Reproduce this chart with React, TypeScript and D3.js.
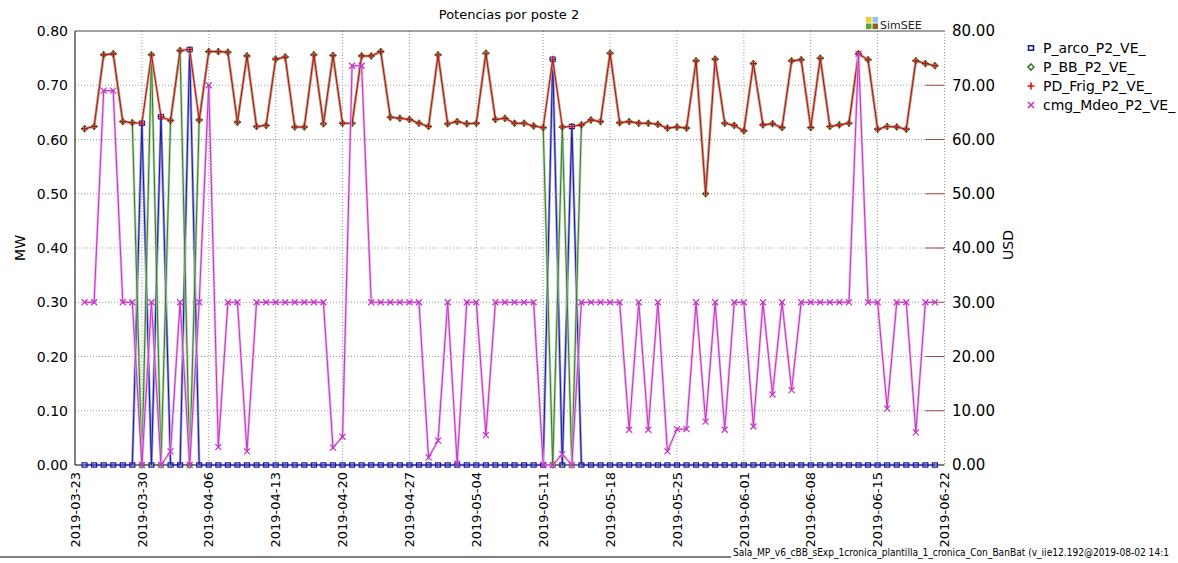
import React, { useEffect, useRef } from 'react';
import * as d3 from 'd3';

const W = 1178;
const H = 563;

// days: 2019-03-24 .. 2019-06-21 (one point per day)
const firstDay = '2019-03-24';
const dayCount = 90;
const xTickLabels = [
  '2019-03-23', '2019-03-30', '2019-04-06', '2019-04-13', '2019-04-20', '2019-04-27', '2019-05-04',
  '2019-05-11', '2019-05-18', '2019-05-25', '2019-06-01', '2019-06-08', '2019-06-15', '2019-06-22',
];
const mwTicks = [0, 0.1, 0.2, 0.3, 0.4, 0.5, 0.6, 0.7, 0.8];
const usdTicks = [0, 10, 20, 30, 40, 50, 60, 70, 80];

const seriesNames = ['P_arco_P2_VE_', 'P_BB_P2_VE_', 'PD_Frig_P2_VE_', 'cmg_Mdeo_P2_VE_'];

const pArco = [
  0, 0, 0, 0, 0, 0, 0.630, 0, 0.642, 0,
  0, 0.766, 0, 0, 0, 0, 0, 0, 0, 0,
  0, 0, 0, 0, 0, 0, 0, 0, 0, 0,
  0, 0, 0, 0, 0, 0, 0, 0, 0, 0,
  0, 0, 0, 0, 0, 0, 0, 0, 0, 0.748,
  0, 0.624, 0, 0, 0, 0, 0, 0, 0, 0,
  0, 0, 0, 0, 0, 0, 0, 0, 0, 0,
  0, 0, 0, 0, 0, 0, 0, 0, 0, 0,
  0, 0, 0, 0, 0, 0, 0, 0, 0, 0,
];

const pBB = [
  0.620, 0.624, 0.756, 0.758, 0.633, 0.631, 0, 0.756, 0, 0.635,
  0.764, 0, 0.636, 0.762, 0.762, 0.761, 0.632, 0.754, 0.624, 0.626,
  0.748, 0.752, 0.623, 0.623, 0.756, 0.629, 0.755, 0.630, 0.630, 0.754,
  0.754, 0.762, 0.641, 0.639, 0.637, 0.630, 0.624, 0.756, 0.629, 0.633,
  0.629, 0.630, 0.759, 0.637, 0.639, 0.630, 0.630, 0.625, 0.622, 0,
  0.623, 0, 0.627, 0.636, 0.633, 0.759, 0.631, 0.633, 0.630, 0.630,
  0.628, 0.621, 0.623, 0.621, 0.745, 0.500, 0.748, 0.630, 0.626, 0.616,
  0.740, 0.627, 0.629, 0.622, 0.745, 0.747, 0.622, 0.750, 0.624, 0.627,
  0.630, 0.758, 0.747, 0.619, 0.624, 0.623, 0.619, 0.745, 0.740, 0.736,
];

const pdFrig = [
  0.620, 0.624, 0.756, 0.758, 0.633, 0.631, 0.630, 0.756, 0.642, 0.635,
  0.764, 0.766, 0.636, 0.762, 0.762, 0.761, 0.632, 0.754, 0.624, 0.626,
  0.748, 0.752, 0.623, 0.623, 0.756, 0.629, 0.755, 0.630, 0.630, 0.754,
  0.754, 0.762, 0.641, 0.639, 0.637, 0.630, 0.624, 0.756, 0.629, 0.633,
  0.629, 0.630, 0.759, 0.637, 0.639, 0.630, 0.630, 0.625, 0.622, 0.748,
  0.623, 0.624, 0.627, 0.636, 0.633, 0.759, 0.631, 0.633, 0.630, 0.630,
  0.628, 0.621, 0.623, 0.621, 0.745, 0.500, 0.748, 0.630, 0.626, 0.616,
  0.740, 0.627, 0.629, 0.622, 0.745, 0.747, 0.622, 0.750, 0.624, 0.627,
  0.630, 0.758, 0.747, 0.619, 0.624, 0.623, 0.619, 0.745, 0.740, 0.736,
];

const cmgMdeo = [
  30, 30, 69, 69, 30, 30, 0, 30, 0, 2.5,
  30, 0, 30, 70, 3.3, 30, 30, 2.5, 30, 30,
  30, 30, 30, 30, 30, 30, 3.2, 5.2, 73.6, 73.6,
  30, 30, 30, 30, 30, 30, 1.4, 4.5, 30, 0.3,
  30, 30, 5.5, 30, 30, 30, 30, 30, 0, 0,
  2.0, 0, 30, 30, 30, 30, 30, 6.5, 30, 6.5,
  30, 2.5, 6.6, 6.6, 30, 8.0, 30, 6.5, 30, 30,
  7.1, 30, 13.0, 30, 13.8, 30, 30, 30, 30, 30,
  30, 75.8, 30, 30, 10.4, 30, 30, 6.0, 30, 30,
];

const FONT = '"DejaVu Sans", sans-serif';

const App = () => {
  const svgRef = useRef(null);

  useEffect(() => {
    const svg = d3.select(svgRef.current);
    svg.selectAll('*').remove();

    const parse = d3.utcParse('%Y-%m-%d');
    const start = parse(firstDay);
    const days = d3.range(dayCount).map(i => d3.utcDay.offset(start, i));
    const ticks = xTickLabels.map(parse);

    const left = 75, right = 944.5, top = 31, bottom = 465;

    const x = d3.scaleUtc()
      .domain([ticks[0], ticks[ticks.length - 1]])
      .range([left, right]);
    const yMW = d3.scaleLinear().domain([0, 0.8]).range([bottom, top]);
    const yUSD = d3.scaleLinear().domain([0, 80]).range([bottom, top]);

    const g = svg.append('g');

    // Grid
    g.append('g')
      .selectAll('line')
      .data(mwTicks.slice(1, -1))
      .enter()
      .append('line')
      .attr('x1', left).attr('x2', right)
      .attr('y1', d => yMW(d)).attr('y2', d => yMW(d))
      .attr('stroke', '#9a9a9a')
      .attr('stroke-dasharray', '1,2');

    g.append('g')
      .selectAll('line')
      .data(ticks.slice(1))
      .enter()
      .append('line')
      .attr('x1', d => x(d)).attr('x2', d => x(d))
      .attr('y1', top).attr('y2', bottom)
      .attr('stroke', '#9a9a9a')
      .attr('stroke-dasharray', '1,2');

    // Right axis ticks (inward, dark red)
    g.append('g')
      .selectAll('line')
      .data(usdTicks.slice(1, -1))
      .enter()
      .append('line')
      .attr('x1', right - 19).attr('x2', right)
      .attr('y1', d => yUSD(d)).attr('y2', d => yUSD(d))
      .attr('stroke', '#a04848')
      .attr('stroke-width', 1);

    // Frame
    g.append('line').attr('x1', left).attr('x2', right).attr('y1', top).attr('y2', top)
      .attr('stroke', '#444');
    g.append('line').attr('x1', left).attr('x2', left).attr('y1', top).attr('y2', bottom)
      .attr('stroke', '#000');
    g.append('line').attr('x1', left).attr('x2', right).attr('y1', bottom).attr('y2', bottom)
      .attr('stroke', '#000');

    // Series
    const series = [
      { name: seriesNames[0], values: pArco, y: yMW, color: '#1a1aa0', halo: '#9090d0',
        marker: 'M-2.5,-2.2h5v4.4h-5z' },
      { name: seriesNames[1], values: pBB, y: yMW, color: '#3a7a2a', halo: '#a8cfa0',
        marker: 'M0,-3L3,0L0,3L-3,0Z' },
      { name: seriesNames[2], values: pdFrig, y: yMW, color: '#b01515', halo: '#cc9484',
        marker: 'M-3.5,0H3.5M0,-3.5V3.5' },
      { name: seriesNames[3], values: cmgMdeo, y: yUSD, color: '#c434c4', halo: '#e4aae4',
        marker: 'M-3,-3L3,3M-3,3L3,-3' },
    ];

    series.forEach(s => {
      const line = d3.line()
        .x((d, i) => x(days[i]))
        .y(d => s.y(d));
      const sg = g.append('g');
      sg.append('path')
        .attr('d', line(s.values))
        .attr('fill', 'none')
        .attr('stroke', s.halo)
        .attr('stroke-width', 2.6)
        .attr('opacity', 0.85);
      sg.append('path')
        .attr('d', line(s.values))
        .attr('fill', 'none')
        .attr('stroke', s.color)
        .attr('stroke-width', 1);
      sg.selectAll('path.m')
        .data(s.values)
        .enter()
        .append('path')
        .attr('class', 'm')
        .attr('d', s.marker)
        .attr('transform', (d, i) => `translate(${x(days[i])},${s.y(d)})`)
        .attr('fill', 'none')
        .attr('stroke', s.color)
        .attr('stroke-width', 1.2);
    });

    // Axis labels
    g.append('g')
      .selectAll('text')
      .data(mwTicks)
      .enter()
      .append('text')
      .attr('x', 68)
      .attr('y', d => yMW(d))
      .attr('dy', '0.36em')
      .attr('text-anchor', 'end')
      .style('font', `14px ${FONT}`)
      .text(d => d3.format('.2f')(d));

    g.append('g')
      .selectAll('text')
      .data(usdTicks)
      .enter()
      .append('text')
      .attr('x', 952)
      .attr('y', d => yUSD(d))
      .attr('dy', '0.36em')
      .style('font', `15px ${FONT}`)
      .text(d => d3.format('.2f')(d));

    g.append('g')
      .selectAll('text')
      .data(ticks)
      .enter()
      .append('text')
      .attr('transform', d => `translate(${x(d)},472) rotate(-90)`)
      .attr('dy', '0.36em')
      .attr('text-anchor', 'end')
      .style('font', `13px ${FONT}`)
      .text((d, i) => xTickLabels[i]);

    g.append('text')
      .attr('transform', 'translate(20,248) rotate(-90)')
      .attr('text-anchor', 'middle')
      .attr('dy', '0.36em')
      .style('font', `14px ${FONT}`)
      .text('MW');
    g.append('text')
      .attr('transform', 'translate(1008,245) rotate(-90)')
      .attr('text-anchor', 'middle')
      .attr('dy', '0.36em')
      .style('font', `14px ${FONT}`)
      .text('USD');

    // Title
    g.append('text')
      .attr('x', 509).attr('y', 19)
      .attr('text-anchor', 'middle')
      .style('font', `13px ${FONT}`)
      .text('Potencias por poste 2');

    // SimSEE logo
    const logo = [['#f2cc2a', 866, 17], ['#8cc4ec', 872.5, 17], ['#5aa52a', 866, 23.5], ['#8a6420', 872.5, 23.5]];
    logo.forEach(([c, lx, ly]) => {
      g.append('rect').attr('x', lx).attr('y', ly).attr('width', 5.5).attr('height', 5.5).attr('fill', c);
    });
    g.append('text')
      .attr('x', 880).attr('y', 29)
      .style('font', `11px ${FONT}`)
      .attr('fill', '#222')
      .text('SimSEE');

    // Legend
    const lg = g.append('g');
    series.forEach((s, i) => {
      const ly = 48 + i * 19;
      lg.append('path')
        .attr('d', s.marker)
        .attr('transform', `translate(1031,${ly})`)
        .attr('fill', 'none')
        .attr('stroke', i === 2 ? '#e01010' : s.color)
        .attr('stroke-width', 1.6);
      lg.append('text')
        .attr('x', 1043).attr('y', ly)
        .attr('dy', '0.36em')
        .style('font', `14px ${FONT}`)
        .text(s.name);
    });

    // Footer
    g.append('line').attr('x1', 0).attr('x2', 731).attr('y1', 557).attr('y2', 557)
      .attr('stroke', '#000');
    g.append('text')
      .attr('x', 733).attr('y', 556)
      .attr('textLength', 436)
      .attr('lengthAdjust', 'spacingAndGlyphs')
      .style('font', `10px "DejaVu Sans Condensed", sans-serif`)
      .text('Sala_MP_v6_cBB_sExp_1cronica_plantilla_1_cronica_Con_BanBat (v_iie12.192@2019-08-02 14:1');
  }, []);

  return (
    <svg
      ref={svgRef}
      width={W}
      height={H}
      style={{ position: 'absolute', left: 0, top: 0, background: '#fff' }}
    />
  );
};

export default App;
